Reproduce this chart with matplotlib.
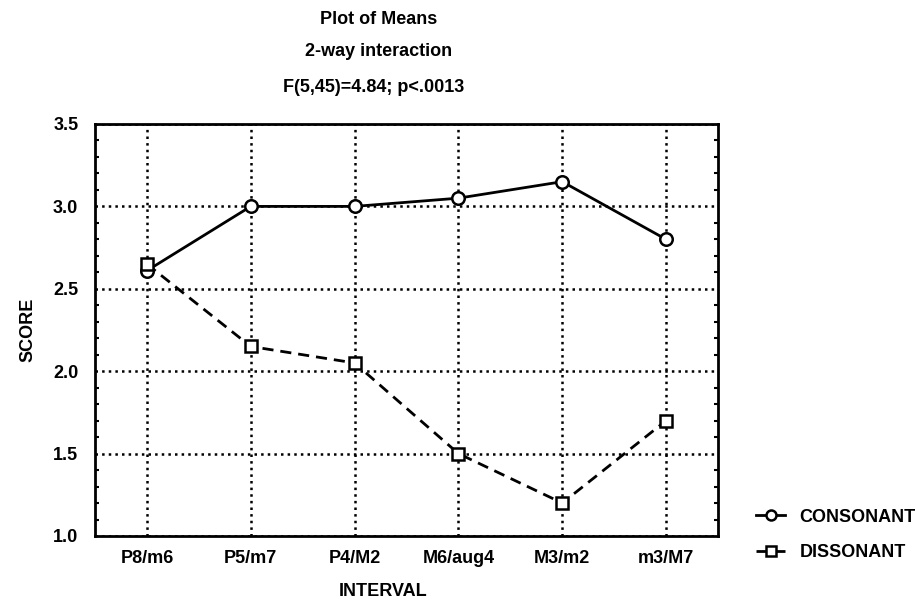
import numpy as np
import matplotlib
matplotlib.use("Agg")
import matplotlib.pyplot as plt
from matplotlib.ticker import MultipleLocator

plt.rcParams['font.family'] = ['Liberation Sans', 'DejaVu Sans']
plt.rcParams['font.weight'] = 'bold'

# data
intervals = ["P8/m6", "P5/m7", "P4/M2", "M6/aug4", "M3/m2", "m3/M7"]
consonant = [2.61, 3.00, 3.00, 3.05, 3.15, 2.80]
dissonant = [2.65, 2.15, 2.05, 1.50, 1.20, 1.70]

fs = 13

fig = plt.figure(figsize=(9.16, 6.05), dpi=100)
ax = fig.add_axes([95/916, 1-536/605, (718-95)/916, (536-124)/605])

x = np.arange(len(intervals))
l1, = ax.plot(x, consonant, color='black', lw=2, marker='o', ms=9,
              mfc='white', mec='black', mew=1.8, label='CONSONANT', zorder=3)
l2, = ax.plot(x, dissonant, color='black', lw=2, ls=(0, (4, 2.5)), marker='s',
              ms=8.5, mfc='white', mec='black', mew=1.8, label='DISSONANT', zorder=3)

ax.set_xlim(-0.5, 5.5)
ax.set_ylim(1.0, 3.5)
ax.set_xticks(x)
ax.set_xticklabels(intervals, fontsize=fs)
ax.yaxis.set_major_locator(MultipleLocator(0.5))
ax.yaxis.set_minor_locator(MultipleLocator(0.1))
ax.set_yticklabels([f"{v:.1f}" for v in ax.get_yticks()], fontsize=fs)
ax.tick_params(axis='x', which='major', length=0, pad=10)
ax.tick_params(axis='y', which='major', length=0, pad=12)
ax.tick_params(axis='y', which='minor', direction='in', length=3, width=1.5,
               left=True, right=True)
ax.grid(True, which='major', color='black', ls=':', lw=1.8)
for s in ax.spines.values():
    s.set_linewidth(2)

fig.text(379/916, 1-20/605, "Plot of Means", ha='center', va='center', fontsize=fs)
fig.text(379/916, 1-52/605, "2-way interaction", ha='center', va='center', fontsize=fs)
fig.text(374/916, 1-87/605, "F(5,45)=4.84; p<.0013", ha='center', va='center', fontsize=fs)
fig.text(28/916, 1-330/605, "SCORE", rotation=90, ha='center', va='center', fontsize=fs)
fig.text(383/916, 1-592/605, "INTERVAL", ha='center', va='center', fontsize=fs)

fig.legend(handles=[l1, l2], loc='center left', bbox_to_anchor=(740/916, 1-535/605),
           frameon=False, fontsize=fs, handlelength=1.6, handletextpad=0.8,
           labelspacing=1.05, markerscale=0.8)

fig.savefig("out.png", dpi=100)
